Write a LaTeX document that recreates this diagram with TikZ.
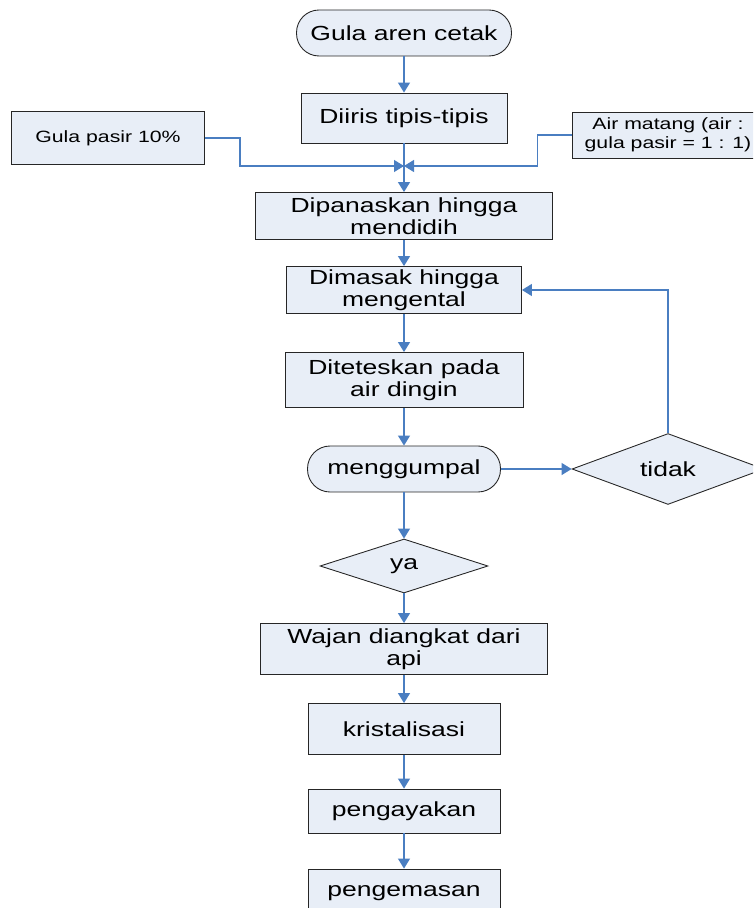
\documentclass[tikz,border=0pt]{standalone}
\usepackage{fontspec}
\setmainfont[FakeStretch=1.3]{Liberation Sans}
\usetikzlibrary{arrows.meta,shapes.geometric}
\definecolor{boxfill}{RGB}{232,238,247}
\definecolor{flowblue}{RGB}{74,126,193}

\begin{document}
\begin{tikzpicture}[x=0.02cm, y=-0.02cm,
        font=\fontsize{11.6}{12.6}\selectfont,
        box/.style={draw=black!85, line width=0.5pt, fill=boxfill,
          align=center, inner sep=1pt},
        term/.style={box, rounded corners=0.45cm},
        choice/.style={box, diamond, inner sep=0pt},
        note/.style={box, font=\fontsize{9.3}{10.8}\selectfont},
        conn/.style={draw=flowblue, line width=0.7pt,
          -{Triangle[length=0.2cm, width=0.24cm]}}]
      \clip (0,0) rectangle (753,908);
      \node[term, minimum width=4.3cm, minimum height=0.92cm] (aren) at (404,33) {Gula aren cetak};
      \node[box, minimum width=4.12cm, minimum height=1.0cm] (iris) at (404,118) {Diiris tipis-tipis};
      \node[note, minimum width=3.86cm, minimum height=1.06cm] (gula) at (108,138) {Gula pasir 10\%};
      \node[note, minimum width=3.84cm, minimum height=0.92cm] (air) at (668,135) {Air matang (air :\\gula pasir = 1 : 1)};
      \node[box, minimum width=5.94cm, minimum height=0.94cm] (panas) at (404,216) {Dipanaskan hingga\\mendidih};
      \node[box, minimum width=4.7cm, minimum height=0.94cm] (masak) at (404,290) {Dimasak hingga\\mengental};
      \node[box, minimum width=4.76cm, minimum height=1.1cm] (tetes) at (404,380) {Diteteskan pada\\air dingin};
      \node[term, minimum width=3.86cm, minimum height=0.92cm] (gumpal) at (404,469) {menggumpal};
      \node[choice, minimum width=3.84cm, minimum height=1.28cm] (tidak) at (668,469) {tidak};
      \node[choice, minimum width=3.36cm, minimum height=1.08cm] (ya) at (404,566) {ya};
      \node[box, minimum width=5.74cm, minimum height=1.02cm] (wajan) at (404,649) {Wajan diangkat dari\\api};
      \node[box, minimum width=3.84cm, minimum height=1.02cm] (kristal) at (404,729) {kristalisasi};
      \node[box, minimum width=3.84cm, minimum height=0.88cm] (ayak) at (404,811) {pengayakan};
      \node[box, minimum width=3.84cm, minimum height=0.96cm] (kemas) at (404,893) {pengemasan};
      \coordinate (join) at (404,166);
      \foreach \a/\b in {aren/iris,iris/panas,panas/masak,masak/tetes,tetes/gumpal,
          gumpal/ya,ya/wajan,wajan/kristal,kristal/ayak,ayak/kemas}
        \draw[conn] (\a.south) -- (\b.north);
      \draw[conn] (gula.east) -- ++(35,0) |- (join);
      \draw[conn] (air.west) -- ++(-34,0) |- (join);
      \draw[conn] (gumpal.east) -- (tidak.west);
      \draw[conn] (tidak.north) |- (masak.east);
      \end{tikzpicture}
\end{document}
